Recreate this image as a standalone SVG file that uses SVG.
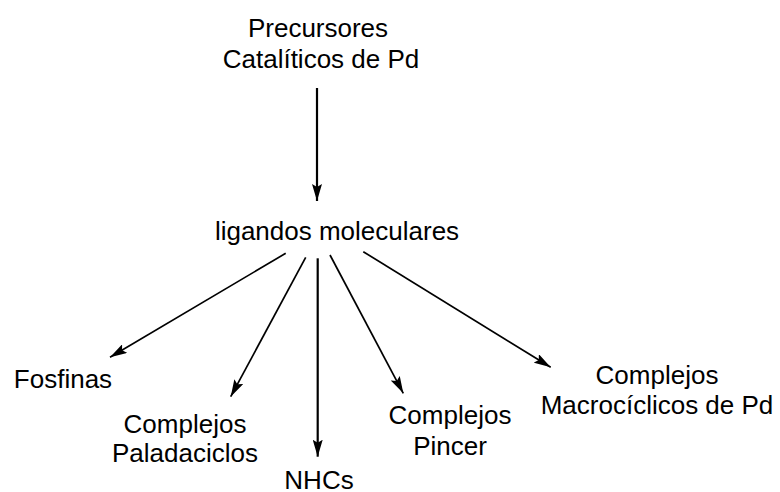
<svg xmlns="http://www.w3.org/2000/svg" width="780" height="492" viewBox="0 0 780 492">
<style>
text{font-family:"Liberation Sans",Arial,sans-serif;font-size:26px;fill:#000;text-anchor:middle}
.c line{stroke:#000;stroke-width:1.7;fill:none}
</style>
<defs>
<marker id="ah" viewBox="0 0 17 10" refX="17" refY="5" markerWidth="17" markerHeight="10" markerUnits="userSpaceOnUse" orient="auto">
<path d="M0,0 L17,5 L0,10 L3,5 Z" fill="#000"/>
</marker>
</defs>
<rect width="780" height="492" fill="#fff"/>
<g id="precursores"><text x="318" y="37">Precursores</text><text x="321" y="68">Catalíticos de Pd</text></g>
<g id="ligandos"><text x="337" y="240">ligandos moleculares</text></g>
<g id="fosfinas"><text x="63" y="388">Fosfinas</text></g>
<g id="paladaciclos"><text x="185" y="433">Complejos</text><text x="185" y="462">Paladaciclos</text></g>
<g id="nhcs"><text x="319" y="489">NHCs</text></g>
<g id="pincer"><text x="450" y="424">Complejos</text><text x="450" y="455">Pincer</text></g>
<g id="macro"><text x="657" y="384">Complejos</text><text x="657" y="414">Macrocíclicos de Pd</text></g>
<g id="connectors" class="c">
<line x1="317" y1="88" x2="317" y2="201" marker-end="url(#ah)" style="stroke-width:2.2"/>
<line x1="285.7" y1="253.3" x2="110" y2="357.3" marker-end="url(#ah)"/>
<line x1="305.7" y1="257.3" x2="230.7" y2="396.7" marker-end="url(#ah)"/>
<line x1="317.7" y1="258.3" x2="317.7" y2="456.7" marker-end="url(#ah)" style="stroke-width:2.2"/>
<line x1="330" y1="255" x2="403.3" y2="393.3" marker-end="url(#ah)"/>
<line x1="363.3" y1="251.7" x2="550.7" y2="367.3" marker-end="url(#ah)"/>
</g>
</svg>
